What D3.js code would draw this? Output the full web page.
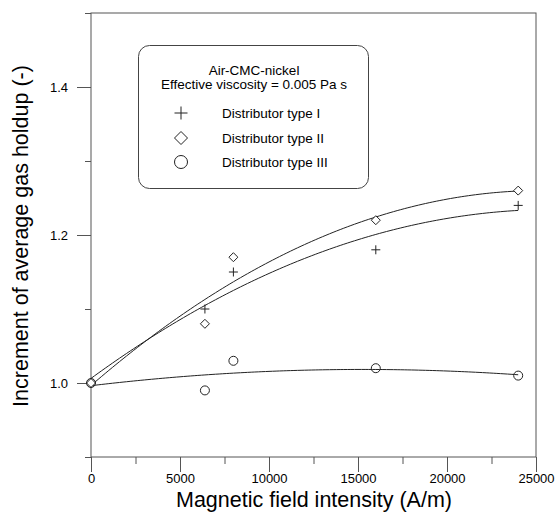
<!DOCTYPE html>
<html>
<head>
<meta charset="utf-8">
<script src="https://cdn.jsdelivr.net/npm/d3@7"></script>
<style>
  html, body { margin: 0; padding: 0; background: #fff; }
  svg { display: block; }
  text { font-family: Arial, "Liberation Sans", sans-serif; fill: #000; }
</style>
</head>
<body>
<svg id="chart" width="555" height="519"></svg>
<script>
// ---- data ----
const fieldIntensity = [0, 6400, 8000, 16000, 24000];
const holdupTypeI   = [1.00, 1.10, 1.15, 1.18, 1.24];
const holdupTypeII  = [1.00, 1.08, 1.17, 1.22, 1.26];
const holdupTypeIII = [1.00, 0.99, 1.03, 1.02, 1.01];
const seriesNames = ["Distributor type I", "Distributor type II", "Distributor type III"];
const seriesSymbols = ["plus", "diamond", "circle"];
const legendTitle = ["Air-CMC-nickel", "Effective viscosity = 0.005 Pa s"];
const xTicks = [0, 2500, 5000, 7500, 10000, 12500, 15000, 17500, 20000, 22500, 25000];
const xLabelTicks = [0, 5000, 10000, 15000, 20000, 25000];
const yTicks = [0.9, 1.0, 1.1, 1.2, 1.3, 1.4, 1.5];
const yLabelTicks = [1.0, 1.2, 1.4];
const xTitle = "Magnetic field intensity (A/m)";
const yTitle = "Increment of average gas holdup (-)";

// ---- layout ----
const svg = d3.select("#chart");
const L = 91, R = 536, T = 13, B = 457;
const x = d3.scaleLinear().domain([0, 25000]).range([L, R]);
const y = d3.scaleLinear().domain([0.9, 1.5]).range([B, T]);
const axisColor = "#555";

// quadratic least-squares fit
function quadFit(xs, ys) {
  const s = xs.map(v => v / 1000);
  let S = [0,0,0,0,0], Ty = [0,0,0];
  s.forEach((xi, i) => {
    for (let k = 0; k < 5; k++) S[k] += Math.pow(xi, k);
    for (let k = 0; k < 3; k++) Ty[k] += ys[i] * Math.pow(xi, k);
  });
  const A = [[S[0],S[1],S[2],Ty[0]],[S[1],S[2],S[3],Ty[1]],[S[2],S[3],S[4],Ty[2]]];
  for (let c = 0; c < 3; c++) {
    let p = c; for (let r = c+1; r < 3; r++) if (Math.abs(A[r][c]) > Math.abs(A[p][c])) p = r;
    [A[c], A[p]] = [A[p], A[c]];
    for (let r = 0; r < 3; r++) if (r !== c) {
      const f = A[r][c] / A[c][c];
      for (let k = c; k < 4; k++) A[r][k] -= f * A[c][k];
    }
  }
  const co = [A[0][3]/A[0][0], A[1][3]/A[1][1], A[2][3]/A[2][2]];
  return v => { const t = v / 1000; return co[0] + co[1]*t + co[2]*t*t; };
}

const allSeries = [holdupTypeI, holdupTypeII, holdupTypeIII];

// ---- axes ----
const gx = svg.append("g").attr("transform", `translate(0,${B})`)
  .call(d3.axisBottom(x).tickValues(xTicks).tickFormat("").tickSize(0));
gx.select(".domain").remove();
gx.selectAll(".tick line")
  .attr("y2", d => xLabelTicks.includes(d) ? 15 : 7)
  .attr("stroke", axisColor);
gx.selectAll(".tick text")
  .text(d => xLabelTicks.includes(d) ? d : "")
  .attr("y", 26).attr("dy", 0)
  .style("font-size", "13px");

const gy = svg.append("g").attr("transform", `translate(${L},0)`)
  .call(d3.axisLeft(y).tickValues(yTicks).tickFormat("").tickSize(0));
gy.select(".domain").remove();
gy.selectAll(".tick line")
  .attr("x2", d => yLabelTicks.some(v => Math.abs(v - d) < 1e-9) ? -14 : -6)
  .attr("stroke", axisColor);
gy.selectAll(".tick text")
  .text(d => yLabelTicks.some(v => Math.abs(v - d) < 1e-9) ? d3.format(".1f")(d) : "")
  .attr("x", -23).attr("dy", "0.35em")
  .style("font-size", "13px");

// frame
svg.append("rect").attr("x", L).attr("y", T).attr("width", R - L).attr("height", B - T)
  .attr("fill", "none").attr("stroke", axisColor).attr("stroke-width", 1);

// titles
svg.append("text").attr("x", 314).attr("y", 507).attr("text-anchor", "middle")
  .style("font-size", "21.5px").text(xTitle);
svg.append("text").attr("transform", `translate(28,${(T + B) / 2 + 1}) rotate(-90)`)
  .attr("text-anchor", "middle").style("font-size", "21.5px").text(yTitle);

// ---- fitted curves ----
const plot = svg.append("g");
allSeries.forEach(ys => {
  const f = quadFit(fieldIntensity, ys);
  const xs = d3.range(0, 24000 + 1, 200);
  plot.append("path")
    .datum(xs)
    .attr("fill", "none").attr("stroke", "#222").attr("stroke-width", 1)
    .attr("d", d3.line().x(d => x(d)).y(d => y(f(d))));
});

// ---- markers ----
function drawSymbol(g, type, cx, cy, size) {
  if (type === "plus") {
    g.append("path").attr("d", `M${cx - size},${cy}H${cx + size}M${cx},${cy - size}V${cy + size}`)
      .attr("stroke", "#222").attr("fill", "none");
  } else if (type === "diamond") {
    g.append("path").attr("d", `M${cx},${cy - size}L${cx + size},${cy}L${cx},${cy + size}L${cx - size},${cy}Z`)
      .attr("stroke", "#222").attr("fill", "#fff");
  } else {
    g.append("circle").attr("cx", cx).attr("cy", cy).attr("r", size)
      .attr("stroke", "#222").attr("fill", "none");
  }
}
allSeries.forEach((ys, si) => {
  ys.forEach((v, i) => {
    drawSymbol(plot, seriesSymbols[si], x(fieldIntensity[i]), y(v), 4.5);
  });
});

// ---- legend ----
const lg = svg.append("g");
lg.append("rect").attr("x", 138.5).attr("y", 45.5).attr("width", 230).attr("height", 143)
  .attr("rx", 11).attr("ry", 11).attr("fill", "#fff").attr("stroke", "#444");
legendTitle.forEach((t, i) => {
  lg.append("text").attr("x", 254).attr("y", 75 + i * 14).attr("text-anchor", "middle")
    .style("font-size", "13.5px").text(t);
});
const legY = [113, 138, 162];
seriesNames.forEach((n, i) => {
  drawSymbol(lg, seriesSymbols[i], 181, legY[i], 6.5);
  lg.append("text").attr("x", 222).attr("y", legY[i] + 5).style("font-size", "13.5px").text(n);
});
</script>
</body>
</html>
